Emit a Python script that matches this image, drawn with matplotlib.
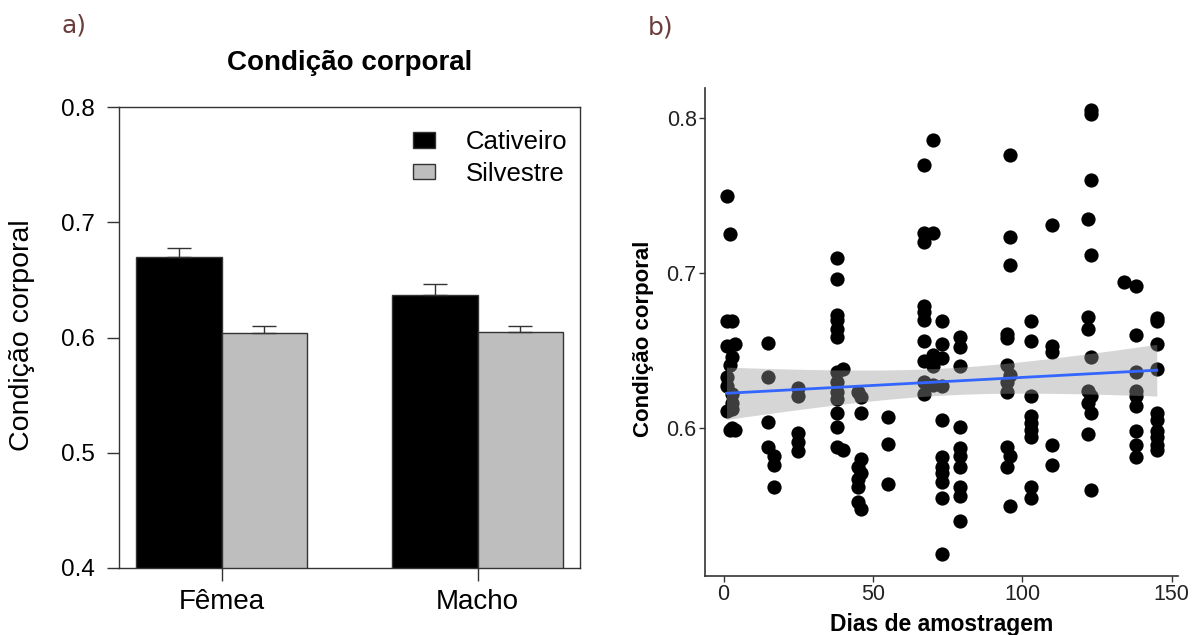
import matplotlib
matplotlib.use("Agg")
import matplotlib.pyplot as plt
import numpy as np

plt.rcParams['font.family'] = ['Liberation Sans', 'DejaVu Sans']

# painel a) - medias e erro padrao
sexos = ['Fêmea', 'Macho']
cativeiro = [0.670, 0.637]
silvestre = [0.604, 0.605]
erro_cativeiro = [0.008, 0.010]
erro_silvestre = [0.006, 0.0055]
grupos = ['Cativeiro', 'Silvestre']

# painel b) - dias de amostragem x condicao corporal (lido do grafico)
dias = [1, 2, 1, 3, 1, 4, 3, 2, 1, 1, 3, 3, 1, 3, 2, 4, 3,
        15, 15, 15, 15, 17, 17, 17,
        25, 25, 25, 25, 25,
        38, 38, 38, 38, 38, 38, 38, 40, 38, 38, 38, 38, 38, 38, 40,
        45, 46, 46, 46, 45, 46, 45, 45, 45, 46,
        55, 55, 55,
        70, 67, 67, 70, 67, 67, 67, 67, 67, 67, 70, 70, 67, 67, 70,
        73, 73, 73, 73, 73, 73, 73, 73, 73, 73, 73,
        79, 79, 79, 79, 79, 79, 79, 79, 79, 79,
        96, 96, 96, 95, 95, 95, 96, 95, 95, 95, 96, 95, 96,
        103, 103, 103, 103, 103, 103, 103, 103, 103,
        110, 110, 110, 110, 110,
        123, 123, 123, 122, 123, 122, 122, 123, 122, 123, 122, 123, 122, 123,
        134, 138, 138, 138, 138, 138, 138, 138, 138, 138,
        145, 145, 145, 145, 145, 145, 145, 145, 145, 145]
condicao = [0.750, 0.725, 0.669, 0.669, 0.653, 0.654, 0.646, 0.641, 0.633, 0.627, 0.622, 0.616, 0.611, 0.612, 0.599, 0.599, 0.600,
            0.655, 0.633, 0.604, 0.588, 0.582, 0.576, 0.562,
            0.626, 0.621, 0.597, 0.591, 0.585,
            0.710, 0.696, 0.673, 0.670, 0.664, 0.659, 0.636, 0.638, 0.630, 0.623, 0.619, 0.610, 0.601, 0.588, 0.586,
            0.623, 0.620, 0.610, 0.580, 0.575, 0.571, 0.567, 0.562, 0.552, 0.548,
            0.607, 0.590, 0.564,
            0.786, 0.770, 0.726, 0.726, 0.720, 0.679, 0.675, 0.670, 0.656, 0.643, 0.647, 0.640, 0.630, 0.622, 0.628,
            0.669, 0.654, 0.645, 0.627, 0.605, 0.581, 0.575, 0.571, 0.565, 0.555, 0.519,
            0.659, 0.652, 0.640, 0.601, 0.587, 0.582, 0.575, 0.562, 0.556, 0.540,
            0.776, 0.723, 0.705, 0.661, 0.658, 0.641, 0.634, 0.630, 0.623, 0.588, 0.582, 0.575, 0.550,
            0.669, 0.656, 0.621, 0.608, 0.603, 0.599, 0.594, 0.562, 0.555,
            0.731, 0.653, 0.649, 0.589, 0.576,
            0.805, 0.803, 0.760, 0.735, 0.712, 0.672, 0.664, 0.646, 0.624, 0.621, 0.616, 0.610, 0.596, 0.560,
            0.694, 0.692, 0.660, 0.636, 0.624, 0.621, 0.614, 0.598, 0.589, 0.581,
            0.671, 0.669, 0.654, 0.638, 0.610, 0.605, 0.598, 0.594, 0.589, 0.586]

W, H = 1199, 635
fig = plt.figure(figsize=(W / 100, H / 100), dpi=100)

# ---------------- a) barplot estilo R base
axa = fig.add_axes([119.3 / W, 1 - 568 / H, (580 - 119.3) / W, (568 - 107.3) / H])
pos = np.array([1.5, 4.5])
axa.bar(pos, cativeiro, width=1, bottom=0, color='black', edgecolor='#333333', lw=1, label=grupos[0])
axa.bar(pos + 1, silvestre, width=1, bottom=0, color='#bebebe', edgecolor='#333333', lw=1, label=grupos[1])
axa.errorbar(pos, cativeiro, yerr=[[0, 0], erro_cativeiro], fmt='none', ecolor='#333333',
             elinewidth=1, capsize=8.5, capthick=1)
axa.errorbar(pos + 1, silvestre, yerr=[[0, 0], erro_silvestre], fmt='none', ecolor='#333333',
             elinewidth=1, capsize=8.5, capthick=1)
axa.set_xlim(0.8, 6.2)
axa.set_ylim(0.4, 0.8)
axa.set_yticks([0.4, 0.5, 0.6, 0.7, 0.8])
axa.set_xticks(pos + 0.5)
axa.set_xticklabels(sexos, fontsize=20)
axa.tick_params(axis='y', length=8.6, width=1, color='#333333', labelsize=17.5, pad=9)
axa.tick_params(axis='x', length=9.3, width=1, color='#333333', pad=6)
for s in axa.spines.values():
    s.set_color('#333333')
    s.set_linewidth(1)
leg = axa.legend(loc='upper right', frameon=False, fontsize=18.5, handlelength=0.85, handleheight=0.55,
                 handletextpad=1.2, labelspacing=0.3, bbox_to_anchor=(1.012, 0.99), borderaxespad=0.3)
fig.text(349.6 / W, 1 - 70 / H, 'Condição corporal', fontsize=20, fontweight='bold', ha='center', va='baseline')
fig.text(22.5 / W, 1 - 335 / H, 'Condição corporal', fontsize=20.5, rotation=90, ha='center', va='center')
fig.text(61.7 / W, 1 - 33 / H, 'a)', fontsize=18, color='#6b3d3d', family='DejaVu Sans', va='baseline')

# ---------------- b) dispersao + lm estilo ggplot
x = np.array(dias, dtype=float)
y = np.array(condicao)
axb = fig.add_axes([705 / W, 1 - 575.7 / H, (1178.3 - 705) / W, (575.7 - 88.3) / H])
axb.scatter(x, y, s=105, color='black', lw=0, zorder=2)

coef = np.polyfit(x, y, 1)
xs = np.linspace(x.min(), x.max(), 80)
ys = np.polyval(coef, xs)
resid = y - np.polyval(coef, x)
n = len(x)
sres = np.sqrt(np.sum(resid ** 2) / (n - 2))
se = sres * np.sqrt(1 / n + (xs - x.mean()) ** 2 / np.sum((x - x.mean()) ** 2))
axb.fill_between(xs, ys - 1.975 * se, ys + 1.975 * se, color='#999999', alpha=0.4, lw=0, zorder=3)
axb.plot(xs, ys, color='#3366ff', lw=2, zorder=4)

dx = (x.max() - x.min()) * 0.05
dy = (y.max() - y.min()) * 0.05
axb.set_xlim(x.min() - dx, x.max() + dx)
axb.set_ylim(y.min() - dy, y.max() + dy)
axb.set_xticks([0, 50, 100, 150])
axb.set_yticks([0.6, 0.7, 0.8])
axb.tick_params(length=4, width=1, color='#333333', labelsize=15.5, labelcolor='#222222', pad=2)
for side in ['top', 'right']:
    axb.spines[side].set_visible(False)
for side in ['left', 'bottom']:
    axb.spines[side].set_color('#333333')
    axb.spines[side].set_linewidth(1.2)
axb.set_xlabel('Dias de amostragem', fontsize=16.5, fontweight='bold', labelpad=6)
fig.text(643 / W, 1 - 339 / H, 'Condição corporal', fontsize=16, fontweight='bold', rotation=90,
         ha='center', va='center')
fig.text(648 / W, 1 - 35 / H, 'b)', fontsize=18, color='#6b3d3d', family='DejaVu Sans', va='baseline')

fig.savefig('out.png', dpi=100)
